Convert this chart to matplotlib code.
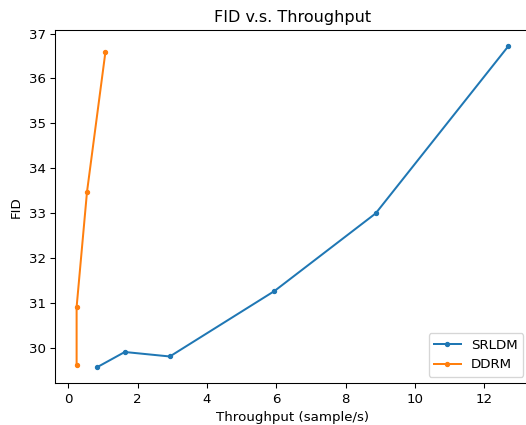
import matplotlib
matplotlib.use("Agg")
import matplotlib.pyplot as plt

# throughput (sample/s) and FID
srldm_throughput = [0.83, 1.63, 2.93, 5.95, 8.87, 12.70]
srldm_fid = [29.56, 29.90, 29.80, 31.26, 32.99, 36.72]

ddrm_throughput = [0.24, 0.24, 0.54, 1.07]
ddrm_fid = [29.62, 30.90, 33.47, 36.58]

dpi = 96
fig = plt.figure(figsize=(526 / dpi, 425 / dpi), dpi=dpi)
ax = fig.add_axes([0.1046, 0.0981, 0.9030, 0.8313])

ax.plot(srldm_throughput, srldm_fid, marker='.', label='SRLDM')
ax.plot(ddrm_throughput, ddrm_fid, marker='.', label='DDRM')

ax.set_title("FID v.s. Throughput")
ax.set_xlabel("Throughput (sample/s)")
ax.set_ylabel("FID")
ax.legend(loc='lower right')

fig.savefig("out.png", dpi=dpi)
